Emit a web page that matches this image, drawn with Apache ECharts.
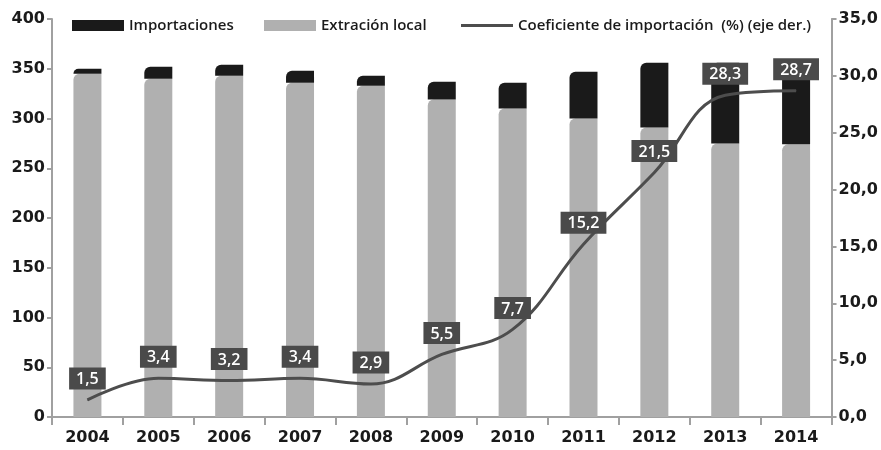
<!DOCTYPE html>
<html><head><meta charset="utf-8">
<script src="https://cdn.jsdelivr.net/npm/echarts@6/dist/echarts.min.js"></script>
<style>html,body{margin:0;padding:0;background:#fff}#c{width:881px;height:450px}</style>
</head><body><div id="c"></div>
<script>
const years = ['2004','2005','2006','2007','2008','2009','2010','2011','2012','2013','2014'];
const extraccionLocal = [345, 340, 343, 336, 333, 319, 310, 300, 291, 275, 274];
const importaciones = [5, 12, 11, 12, 10, 18, 26, 47, 65, 81, 83];
const coeficiente = [1.5, 3.4, 3.2, 3.4, 2.9, 5.5, 7.7, 15.2, 21.5, 28.3, 28.7];
const leftTicks = {min: 0, max: 400, interval: 50};
const rightTicks = {min: 0, max: 35, interval: 5};

const FONT = 'Open Sans';
const AXFONT = 'DejaVu Sans';
const comma = v => String(v).replace('.', ',');
const chart = echarts.init(document.getElementById('c'));
const axisLine = {show: true, lineStyle: {color: '#a0a0a0', width: 2}};
const legendText = {fontFamily: FONT, fontSize: 15, fontWeight: 600, color: '#1a1a1a'};
const axLabel = {fontFamily: AXFONT, fontSize: 16, fontWeight: 'bold', color: '#1a1a1a'};
const lineName = 'Coeficiente de importación  (%) (eje der.)';
chart.setOption({
  animation: false,
  textStyle: {fontFamily: FONT},
  grid: {left: 52, right: 49, top: 19, bottom: 33, containLabel: false},
  legend: [
    {left: 67, top: 13, itemWidth: 52, itemHeight: 11, textStyle: legendText, data: [{name: 'Importaciones', icon: 'rect'}]},
    {left: 259, top: 13, itemWidth: 52, itemHeight: 11, textStyle: legendText, data: [{name: 'Extración local', icon: 'rect'}]},
    {left: 456, top: 13, itemWidth: 52, itemHeight: 3, textStyle: legendText,
     data: [{name: lineName, icon: 'rect', itemStyle: {color: '#4d4d4d'}}]}
  ],
  xAxis: {
    type: 'category', data: years,
    axisLine: axisLine,
    axisTick: {show: true, length: 8, lineStyle: {color: '#a0a0a0', width: 2}},
    axisLabel: Object.assign({margin: 13}, axLabel)
  },
  yAxis: [
    {type: 'value', min: leftTicks.min, max: leftTicks.max, interval: leftTicks.interval,
     axisLine: axisLine, axisTick: {show: true, length: 5, lineStyle: {color: '#a0a0a0', width: 2}},
     splitLine: {show: false},
     axisLabel: Object.assign({margin: 7}, axLabel)},
    {type: 'value', position: 'right', min: rightTicks.min, max: rightTicks.max, interval: rightTicks.interval,
     axisLine: axisLine, axisTick: {show: true, length: 5, lineStyle: {color: '#a0a0a0', width: 2}},
     splitLine: {show: false},
     axisLabel: Object.assign({margin: 7, formatter: v => v.toFixed(1).replace('.', ',')}, axLabel)}
  ],
  series: [
    {name: 'Extración local', type: 'bar', stack: 'a', data: extraccionLocal, barWidth: 28,
     itemStyle: {color: '#b0b0b0', borderRadius: [6, 0, 0, 0]}},
    {name: 'Importaciones', type: 'bar', stack: 'a', data: importaciones, barWidth: 28,
     itemStyle: {color: '#1a1a1a', borderRadius: [6, 0, 0, 0]}},
    {name: lineName, type: 'line', yAxisIndex: 1, data: coeficiente,
     smooth: 0.4, symbol: 'circle', symbolSize: 1, showSymbol: true, z: 5,
     lineStyle: {color: '#4d4d4d', width: 3}, itemStyle: {color: '#4d4d4d'},
     label: {show: true, position: 'top', distance: 10, formatter: p => comma(p.value),
       backgroundColor: '#4a4a4a', color: '#fff', fontFamily: FONT, fontSize: 16, fontWeight: 600,
       padding: [4, 7, 2, 7]}}
  ]
});
</script></body></html>
